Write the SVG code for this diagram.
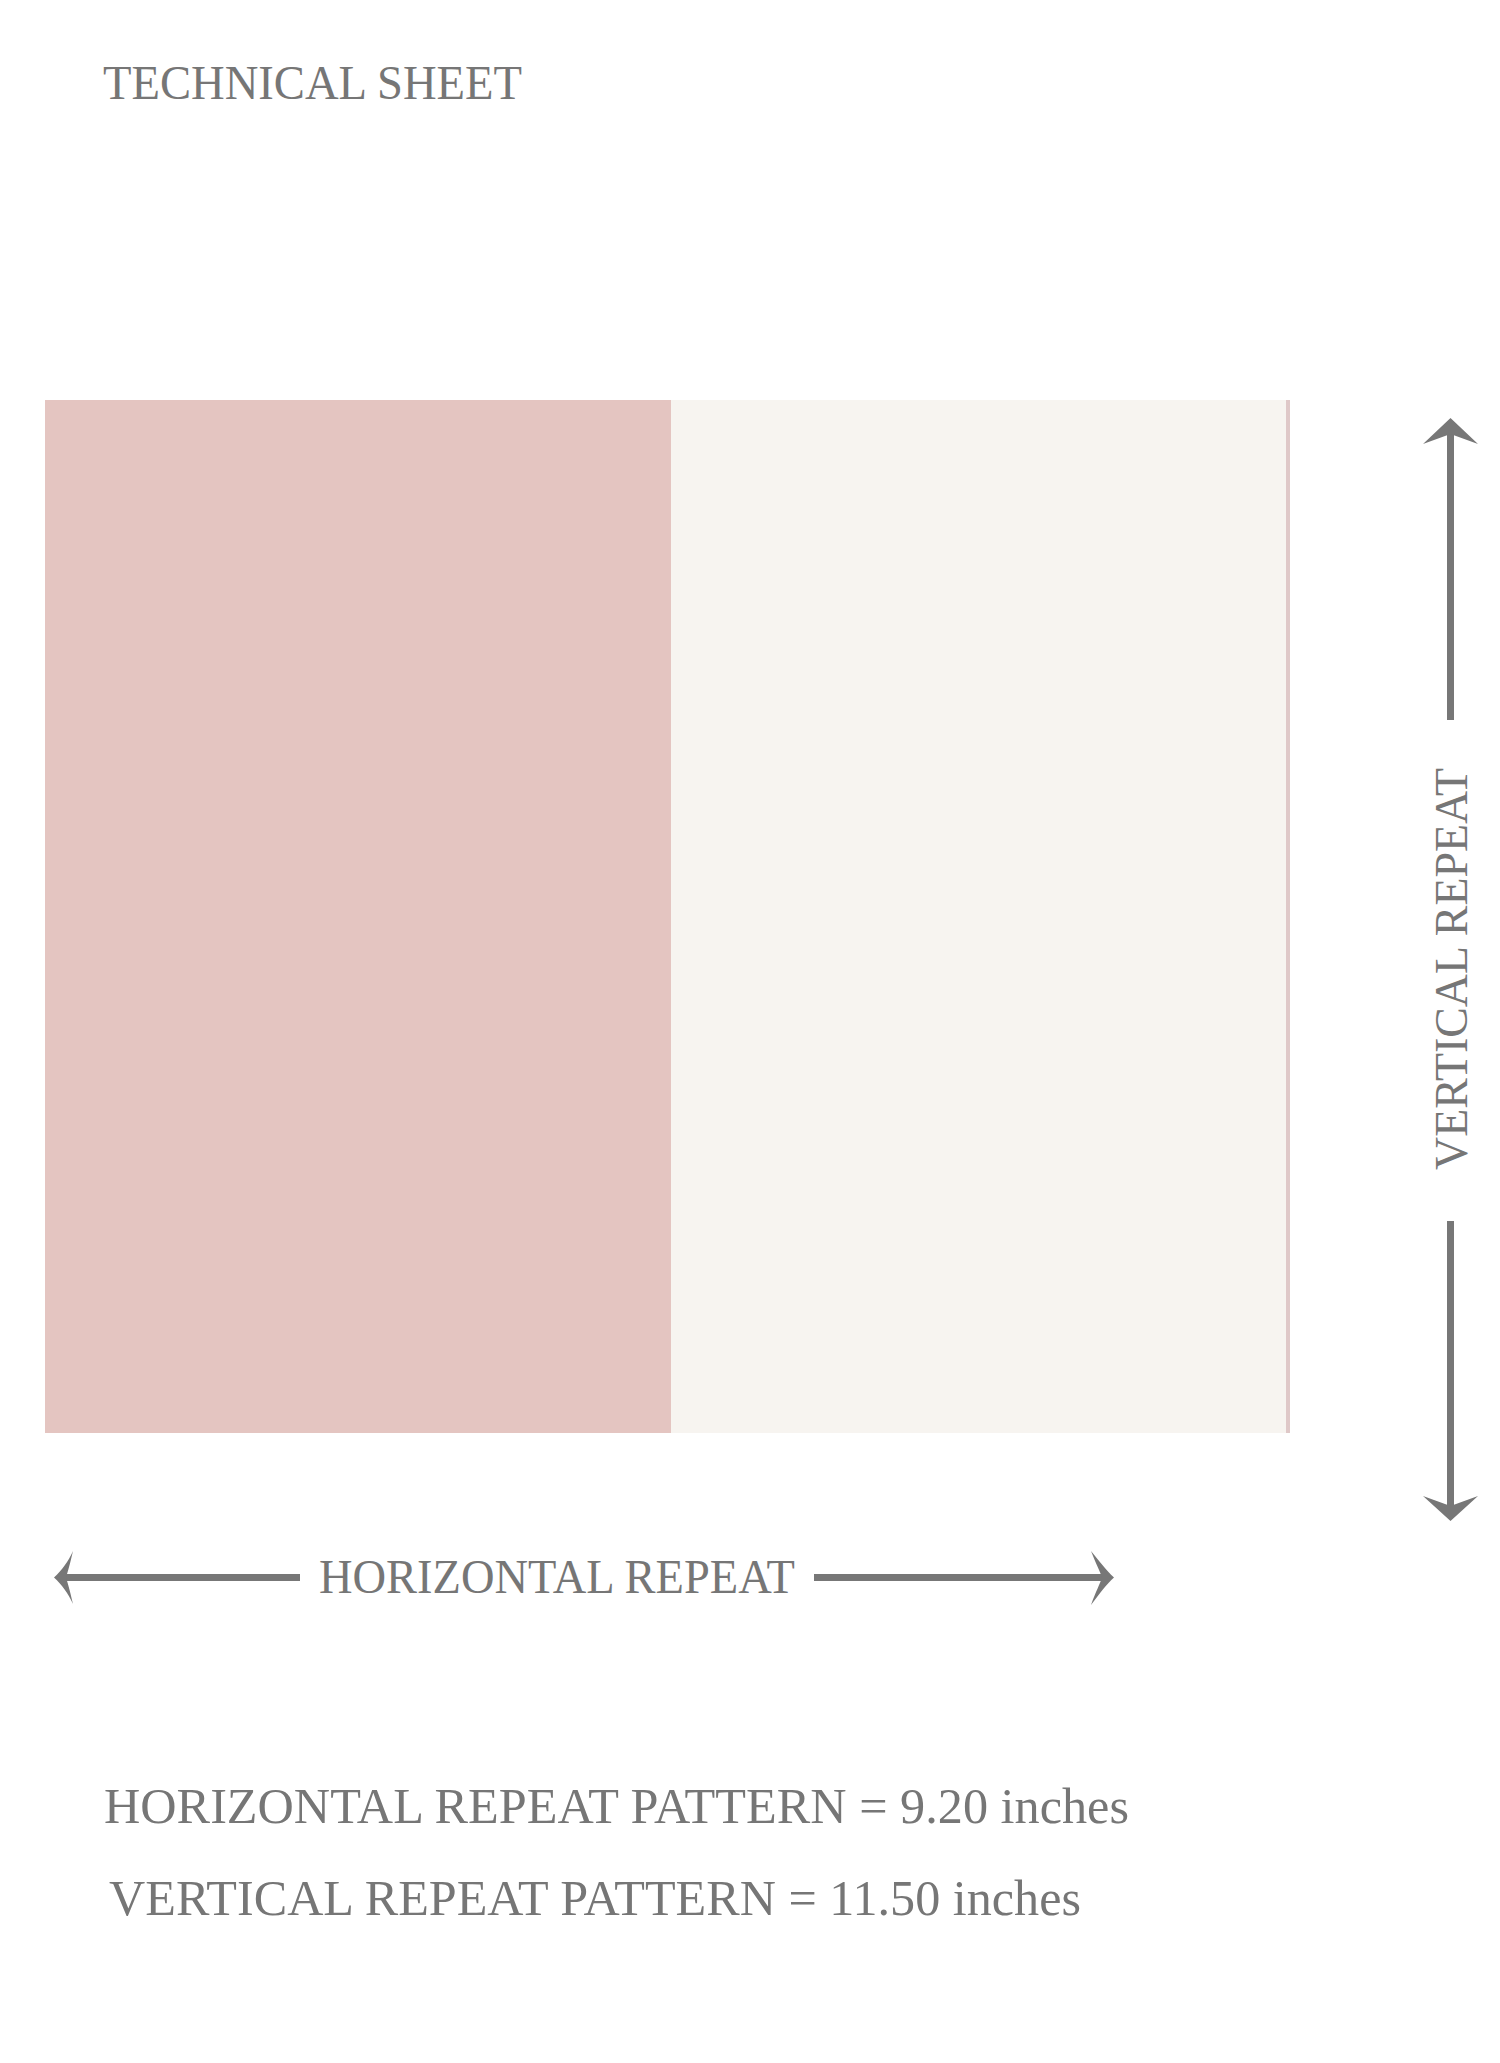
<svg xmlns="http://www.w3.org/2000/svg" width="1500" height="2063" viewBox="0 0 1500 2063">
<style>
.t{font-family:"Liberation Serif","Times New Roman",serif;fill:#767676}
.ar{fill:#777777}
</style>
<rect x="0" y="0" width="1500" height="2063" fill="#ffffff"/>
<g id="title"><text class="t" x="103" y="99" font-size="48" textLength="419" lengthAdjust="spacingAndGlyphs">TECHNICAL SHEET</text></g>
<g id="swatch">
<rect x="45" y="400" width="627" height="1033" fill="#e4c5c1"/>
<rect x="671" y="400" width="616" height="1033" fill="#f7f4f0"/>
<rect x="1286" y="400" width="4" height="1033" fill="#dfc8c8"/>
</g>
<g id="connectors">
<rect class="ar" x="1447" y="428" width="7" height="292"/>
<path class="ar" d="M1450.5,418 L1478,444 L1450.5,434 L1423,444 Z"/>
<rect class="ar" x="1447" y="1221" width="7" height="290"/>
<path class="ar" d="M1450.5,1521 L1478,1496 L1450.5,1506 L1423,1496 Z"/>
<rect class="ar" x="60" y="1574" width="240" height="7"/>
<path class="ar" d="M54,1577.5 C62,1570 68,1562 73,1551 C70,1564 68,1571 66,1577.5 C68,1584 70,1591 73,1604 C68,1593 62,1585 54,1577.5 Z"/>
<rect class="ar" x="814" y="1574" width="292" height="7"/>
<path class="ar" d="M1114,1577.5 C1106,1570 1100,1562 1091,1551 C1096,1564 1100,1571 1102,1577.5 C1100,1584 1096,1591 1091,1605 C1100,1593 1106,1585 1114,1577.5 Z"/>
</g>
<g id="vertical-label"><text class="t" transform="translate(1467,969) rotate(-90)" x="0" y="0" text-anchor="middle" font-size="47" textLength="402" lengthAdjust="spacingAndGlyphs">VERTICAL REPEAT</text></g>
<g id="horizontal-label"><text class="t" x="319" y="1593" font-size="48" textLength="476" lengthAdjust="spacingAndGlyphs">HORIZONTAL REPEAT</text></g>
<g id="specs">
<text class="t" x="104" y="1823" font-size="51" textLength="1025" lengthAdjust="spacingAndGlyphs">HORIZONTAL REPEAT PATTERN = 9.20 inches</text>
<text class="t" x="109" y="1915" font-size="51" textLength="972" lengthAdjust="spacingAndGlyphs">VERTICAL REPEAT PATTERN = 11.50 inches</text>
</g>
</svg>
